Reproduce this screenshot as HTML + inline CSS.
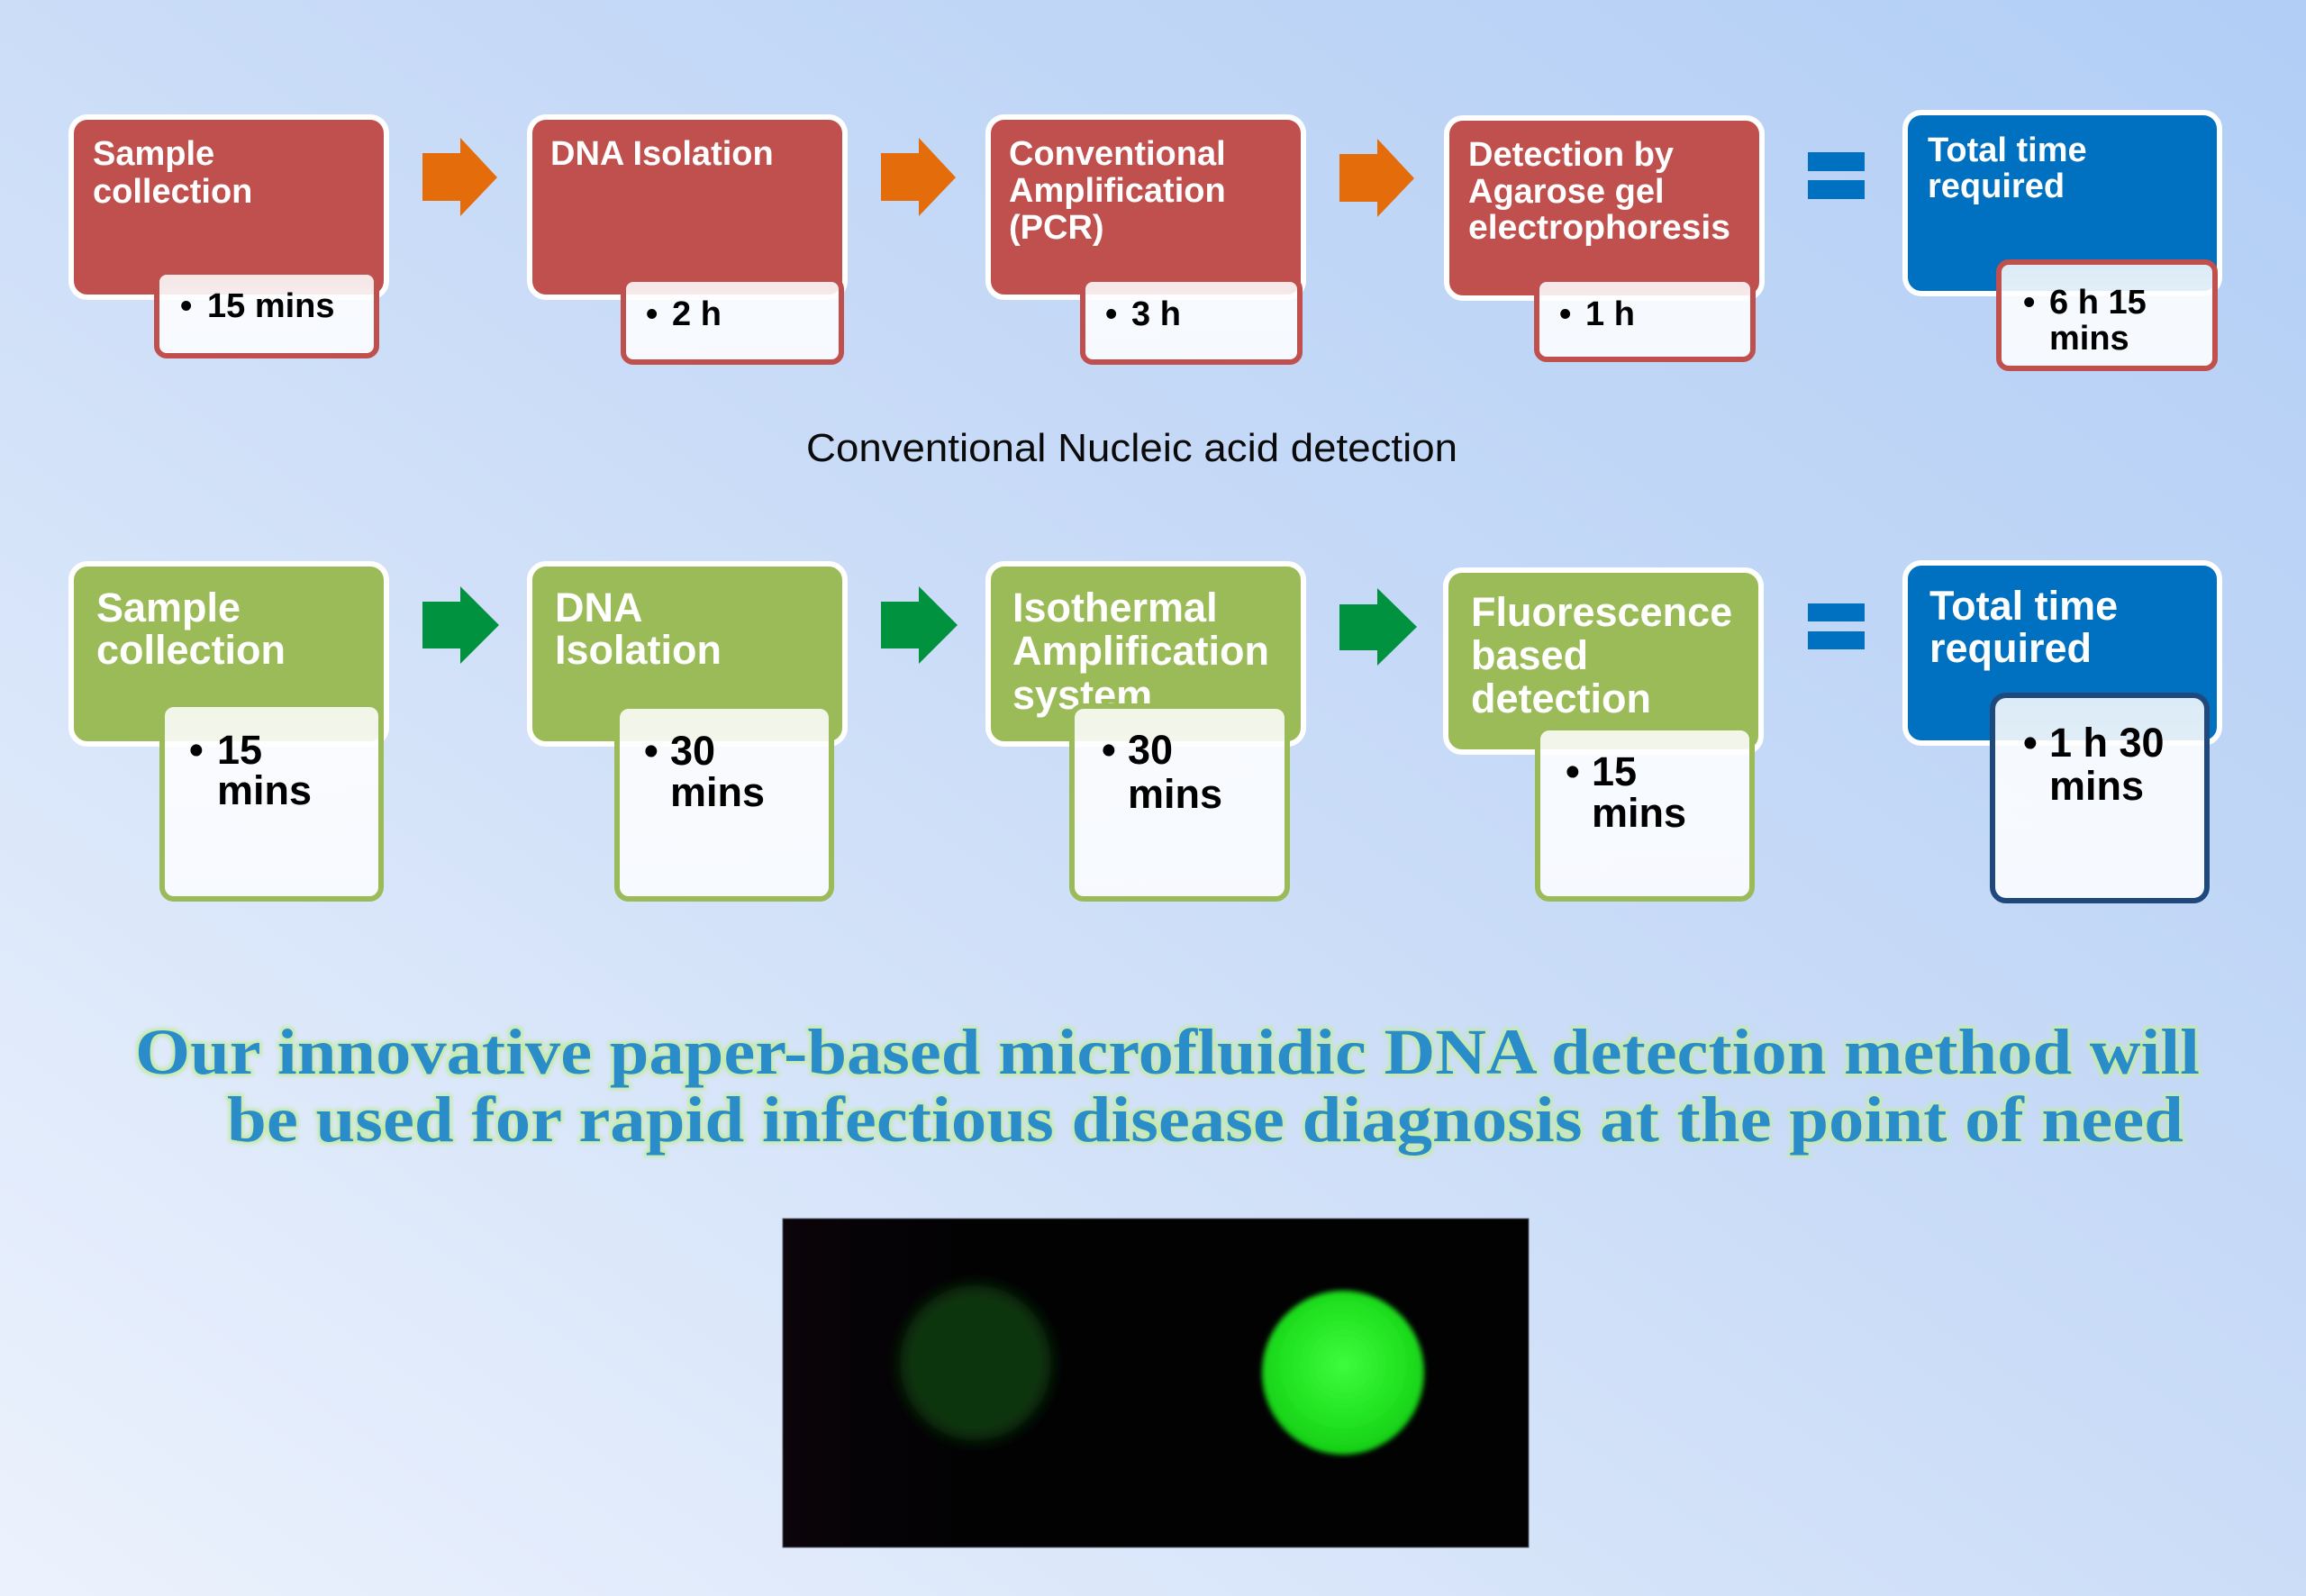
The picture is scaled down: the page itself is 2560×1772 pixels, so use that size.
<!DOCTYPE html>
<html>
<head>
<meta charset="utf-8">
<style>
  html,body{margin:0;padding:0;}
  body{width:2560px;height:1772px;overflow:hidden;
    background:linear-gradient(to top right,#ecf2fd 0%,#cadcf7 52%,#b2cef6 100%);}
  svg{display:block;position:absolute;left:0;top:0;}
  .t{font-family:"Liberation Sans",Arial,sans-serif;font-weight:bold;fill:#ffffff;}
  .s{font-family:"Liberation Sans",Arial,sans-serif;font-weight:bold;fill:#000000;}
</style>
</head>
<body>
<svg width="2560" height="1772" viewBox="0 0 2560 1772" xmlns="http://www.w3.org/2000/svg">
  <defs>
    <linearGradient id="subg" x1="0" y1="0" x2="0" y2="1">
      <stop offset="0" stop-color="#ffffff" stop-opacity="0.86"/>
      <stop offset="1" stop-color="#f8faff" stop-opacity="0.97"/>
    </linearGradient>
    <filter id="glow" x="-3%" y="-40%" width="106%" height="180%">
      <feMorphology in="SourceAlpha" operator="dilate" radius="2.5" result="d"/>
      <feGaussianBlur in="d" stdDeviation="2.2" result="b"/>
      <feFlood flood-color="#c3eba6"/>
      <feComposite in2="b" operator="in" result="g"/>
      <feMerge><feMergeNode in="g"/><feMergeNode in="SourceGraphic"/></feMerge>
    </filter>
    <filter id="blur3" x="-30%" y="-30%" width="160%" height="160%">
      <feGaussianBlur stdDeviation="3"/>
    </filter>
    <filter id="blur8" x="-30%" y="-30%" width="160%" height="160%">
      <feGaussianBlur stdDeviation="8"/>
    </filter>
    <radialGradient id="bright" cx="0.5" cy="0.45" r="0.5">
      <stop offset="0" stop-color="#3dfb3d"/>
      <stop offset="0.7" stop-color="#22e422"/>
      <stop offset="1" stop-color="#19d319"/>
    </radialGradient>
    <linearGradient id="photoL" x1="0" y1="0" x2="1" y2="0">
      <stop offset="0" stop-color="#0c050b"/>
      <stop offset="0.1" stop-color="#060306"/>
      <stop offset="0.25" stop-color="#020203"/>
      <stop offset="1" stop-color="#020203"/>
    </linearGradient>
  </defs>

  <!-- ============ ROW 1 (conventional) ============ -->
  <rect x="79" y="130" width="350" height="200" rx="18" fill="#C0504D" stroke="#ffffff" stroke-width="6"/>
  <rect x="588" y="130" width="350" height="200" rx="18" fill="#C0504D" stroke="#ffffff" stroke-width="6"/>
  <rect x="1097" y="130" width="350" height="200" rx="18" fill="#C0504D" stroke="#ffffff" stroke-width="6"/>
  <rect x="1606" y="131" width="350" height="200" rx="18" fill="#C0504D" stroke="#ffffff" stroke-width="6"/>
  <rect x="2115" y="125" width="349" height="201" rx="18" fill="#0070C0" stroke="#ffffff" stroke-width="6"/>

  <text class="t" font-size="38" x="103" y="183">Sample</text>
  <text class="t" font-size="38" x="103" y="225">collection</text>
  <text class="t" font-size="38" x="611" y="183">DNA Isolation</text>
  <text class="t" font-size="38" x="1120" y="183">Conventional</text>
  <text class="t" font-size="38" x="1120" y="224">Amplification</text>
  <text class="t" font-size="38" x="1120" y="265">(PCR)</text>
  <text class="t" font-size="38" x="1630" y="184">Detection by</text>
  <text class="t" font-size="38" x="1630" y="225">Agarose gel</text>
  <text class="t" font-size="38" x="1630" y="265" textLength="291" lengthAdjust="spacingAndGlyphs">electrophoresis</text>
  <text class="t" font-size="38" x="2140" y="179">Total time</text>
  <text class="t" font-size="38" x="2140" y="219">required</text>

  <rect x="174" y="302" width="244" height="93" rx="11" fill="url(#subg)" stroke="#C0504D" stroke-width="6"/>
  <rect x="692" y="310" width="242" height="92" rx="11" fill="url(#subg)" stroke="#C0504D" stroke-width="6"/>
  <rect x="1202" y="310" width="241" height="92" rx="11" fill="url(#subg)" stroke="#C0504D" stroke-width="6"/>
  <rect x="1706" y="310" width="240" height="89" rx="11" fill="url(#subg)" stroke="#C0504D" stroke-width="6"/>
  <rect x="2219" y="291" width="240" height="118" rx="11" fill="url(#subg)" stroke="#C0504D" stroke-width="6"/>

  <text class="s" font-size="38" x="200" y="352">•</text>
  <text class="s" font-size="38" x="230" y="352">15 mins</text>
  <text class="s" font-size="38" x="717" y="361">•</text>
  <text class="s" font-size="38" x="746" y="361">2 h</text>
  <text class="s" font-size="38" x="1227" y="361">•</text>
  <text class="s" font-size="38" x="1256" y="361">3 h</text>
  <text class="s" font-size="38" x="1731" y="361">•</text>
  <text class="s" font-size="38" x="1760" y="361">1 h</text>
  <text class="s" font-size="38" x="2246" y="348">•</text>
  <text class="s" font-size="38" x="2275" y="348">6 h 15</text>
  <text class="s" font-size="38" x="2275" y="388">mins</text>

  <polygon fill="#E46C0A" points="469,170 511,170 511,153 552,197 511,240 511,223 469,223"/>
  <polygon fill="#E46C0A" points="978,170 1020,170 1020,153 1061,197 1020,240 1020,223 978,223"/>
  <polygon fill="#E46C0A" points="1487,171 1529,171 1529,154 1570,198 1529,241 1529,224 1487,224"/>

  <rect x="2007" y="169" width="63" height="21" fill="#0070C0"/>
  <rect x="2007" y="200" width="63" height="21" fill="#0070C0"/>

  <text x="895" y="512" font-family="Liberation Sans, Arial, sans-serif" font-size="44" fill="#0a0a0a" textLength="723" lengthAdjust="spacingAndGlyphs">Conventional Nucleic acid detection</text>

  <!-- ============ ROW 2 (isothermal) ============ -->
  <rect x="79" y="626" width="350" height="200" rx="18" fill="#9BBB59" stroke="#ffffff" stroke-width="6"/>
  <rect x="588" y="626" width="350" height="200" rx="18" fill="#9BBB59" stroke="#ffffff" stroke-width="6"/>
  <rect x="1097" y="626" width="350" height="200" rx="18" fill="#9BBB59" stroke="#ffffff" stroke-width="6"/>
  <rect x="1605" y="633" width="350" height="202" rx="18" fill="#9BBB59" stroke="#ffffff" stroke-width="6"/>
  <rect x="2115" y="625" width="349" height="200" rx="18" fill="#0070C0" stroke="#ffffff" stroke-width="6"/>

  <text class="t" font-size="45" x="107" y="690">Sample</text>
  <text class="t" font-size="45" x="107" y="737">collection</text>
  <text class="t" font-size="45" x="616" y="690">DNA</text>
  <text class="t" font-size="45" x="616" y="737">Isolation</text>
  <text class="t" font-size="45" x="1124" y="690">Isothermal</text>
  <text class="t" font-size="45" x="1124" y="738">Amplification</text>
  <text class="t" font-size="45" x="1124" y="787">system</text>
  <text class="t" font-size="45" x="1633" y="695">Fluorescence</text>
  <text class="t" font-size="45" x="1633" y="743">based</text>
  <text class="t" font-size="45" x="1633" y="791">detection</text>
  <text class="t" font-size="45" x="2142" y="688">Total time</text>
  <text class="t" font-size="45" x="2142" y="735">required</text>

  <rect x="180" y="782" width="243" height="216" rx="13" fill="url(#subg)" stroke="#9BBB59" stroke-width="6"/>
  <rect x="685" y="784" width="238" height="214" rx="13" fill="url(#subg)" stroke="#9BBB59" stroke-width="6"/>
  <rect x="1190" y="784" width="239" height="214" rx="13" fill="url(#subg)" stroke="#9BBB59" stroke-width="6"/>
  <rect x="1707" y="808" width="238" height="190" rx="13" fill="url(#subg)" stroke="#9BBB59" stroke-width="6"/>
  <rect x="2212" y="772" width="238" height="228" rx="15" fill="url(#subg)" stroke="#1F497D" stroke-width="6"/>

  <text class="s" font-size="45" x="210" y="848">•</text>
  <text class="s" font-size="45" x="241" y="848">15</text>
  <text class="s" font-size="45" x="241" y="893">mins</text>
  <text class="s" font-size="45" x="715" y="849">•</text>
  <text class="s" font-size="45" x="744" y="849">30</text>
  <text class="s" font-size="45" x="744" y="895">mins</text>
  <text class="s" font-size="45" x="1223" y="848">•</text>
  <text class="s" font-size="45" x="1252" y="848">30</text>
  <text class="s" font-size="45" x="1252" y="897">mins</text>
  <text class="s" font-size="45" x="1738" y="872">•</text>
  <text class="s" font-size="45" x="1767" y="872">15</text>
  <text class="s" font-size="45" x="1767" y="918">mins</text>
  <text class="s" font-size="45" x="2246" y="840">•</text>
  <text class="s" font-size="45" x="2275" y="840">1 h 30</text>
  <text class="s" font-size="45" x="2275" y="888">mins</text>

  <polygon fill="#00923F" points="469,668 511,668 511,651 554,694 511,737 511,720 469,720"/>
  <polygon fill="#00923F" points="978,668 1020,668 1020,651 1063,694 1020,737 1020,720 978,720"/>
  <polygon fill="#00923F" points="1487,671 1529,671 1529,653 1573,696 1529,739 1529,722 1487,722"/>

  <rect x="2007" y="670" width="63" height="20" fill="#0070C0"/>
  <rect x="2007" y="701" width="63" height="20" fill="#0070C0"/>

  <!-- ============ Headline ============ -->
  <g filter="url(#glow)" font-family="Liberation Serif, 'Times New Roman', serif" font-weight="bold" font-size="72" fill="#2A8CC8">
    <text x="150" y="1192" textLength="2292" lengthAdjust="spacingAndGlyphs">Our innovative paper-based microfluidic DNA detection method will</text>
    <text x="252" y="1267" textLength="2172" lengthAdjust="spacingAndGlyphs">be used for rapid infectious disease diagnosis at the point of need</text>
  </g>

  <!-- ============ Photo ============ -->
  <rect x="869" y="1353" width="828" height="365" fill="url(#photoL)"/>
  <rect x="869" y="1353" width="828" height="365" fill="none" stroke="#555a66" stroke-width="1"/>
  <ellipse cx="1083" cy="1513" rx="84" ry="86" fill="#0a350c" filter="url(#blur8)"/>
  <ellipse cx="1491" cy="1524" rx="90" ry="91" fill="url(#bright)" filter="url(#blur3)"/>
</svg>
</body>
</html>
